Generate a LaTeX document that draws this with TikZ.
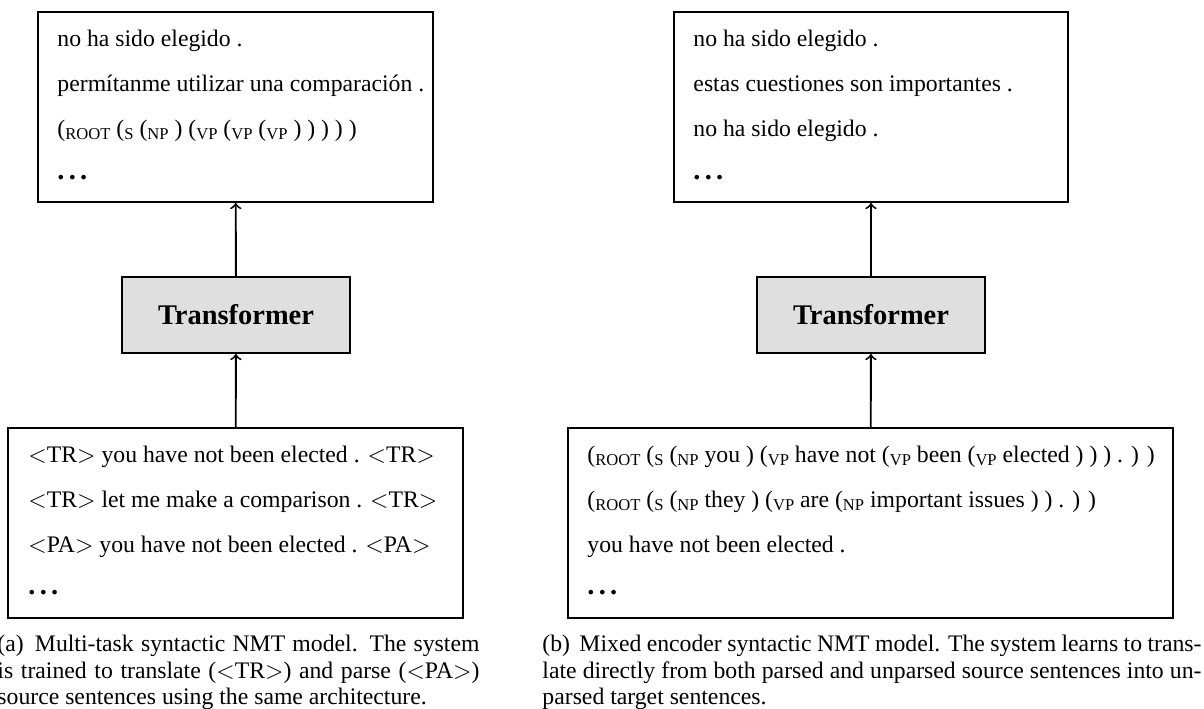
\documentclass[tikz,border=0pt]{standalone}
\usepackage{fontspec}
\setmainfont{Liberation Serif}
\newcommand{\px}{0.4217pt}
\newcommand{\tg}[1]{\raisebox{-1pt}{\fontsize{7}{8}\selectfont #1}}
\newcommand{\more}{{\large\bfseries .\hspace{1.8pt}.\hspace{1.8pt}.}}
\tikzstyle{textBox}=[draw,thick,rectangle,inner sep=0pt,minimum height={190*\px}]
\tikzstyle{modelBox}=[draw,thick,rectangle,fill=gray!25,inner sep=0pt,minimum width={228*\px},minimum height={76*\px},font=\large\bfseries]
\tikzstyle{sentence}=[anchor=base west,inner sep=0pt]
\tikzstyle{subCaption}=[anchor=base west,inner sep=0pt,align=justify,font=\fontsize{10}{11}\selectfont]
\tikzstyle{dataFlow}=[->, thick]

\begin{document}
\begin{tikzpicture}[x=\px, y=-\px]
	\useasboundingbox (0, 0) rectangle (1204, 709);

	\node[textBox, minimum width={395*\px}] (outA) at (235.5, 107) {};
	\node[modelBox] (modelA) at (236, 315) {Transformer};
	\node[textBox, minimum width={455*\px}] (inA) at (235.5, 523) {};

	\node[sentence] (outA1) at (57, 47) {no ha sido elegido .};
	\node[sentence] (outA2) at (57, 92) {permítanme utilizar una comparación .};
	\node[sentence] (outA3) at (57, 137) {(\tg{ROOT} (\tg{S} (\tg{NP} ) (\tg{VP} (\tg{VP} (\tg{VP} ) ) ) ) )};
	\node[sentence] (outA4) at (57, 180) {\more};

	\node[sentence] (inA1) at (28, 463) {$<$TR$>$ you have not been elected . $<$TR$>$};
	\node[sentence] (inA2) at (28, 508) {$<$TR$>$ let me make a comparison . $<$TR$>$};
	\node[sentence] (inA3) at (28, 553) {$<$PA$>$ you have not been elected . $<$PA$>$};
	\node[sentence] (inA4) at (28, 595) {\more};

	\draw[dataFlow] (inA) -- (modelA);
	\draw[dataFlow] (modelA) -- (outA);

	\node[subCaption, text width={482*\px}] (capA) at (-3, 652) {(a)~\,Multi-task syntactic NMT model. The system\linebreak is trained to translate ($<$TR$>$) and parse ($<$PA$>$)\linebreak source sentences using the same architecture.};

	\node[textBox, minimum width={394*\px}] (outB) at (871, 107) {};
	\node[modelBox] (modelB) at (871, 315) {Transformer};
	\node[textBox, minimum width={605*\px}] (inB) at (870.5, 523) {};

	\node[sentence] (outB1) at (693, 47) {no ha sido elegido .};
	\node[sentence] (outB2) at (693, 92) {estas cuestiones son importantes .};
	\node[sentence] (outB3) at (693, 137) {no ha sido elegido .};
	\node[sentence] (outB4) at (693, 180) {\more};

	\node[sentence] (inB1) at (587, 463) {(\tg{ROOT} (\tg{S} (\tg{NP} you ) (\tg{VP} have not (\tg{VP} been (\tg{VP} elected ) ) ) . ) )};
	\node[sentence] (inB2) at (587, 508) {(\tg{ROOT} (\tg{S} (\tg{NP} they ) (\tg{VP} are (\tg{NP} important issues ) ) . ) )};
	\node[sentence] (inB3) at (587, 553) {you have not been elected .};
	\node[sentence] (inB4) at (587, 595) {\more};

	\draw[dataFlow] (inB) -- (modelB);
	\draw[dataFlow] (modelB) -- (outB);

	\node[subCaption, text width={659*\px}] (capB) at (542, 652) {(b)~\,Mixed encoder syntactic NMT model. The system learns to trans-\linebreak late directly from both parsed and unparsed source sentences into un-\linebreak parsed target sentences.};
\end{tikzpicture}
\end{document}
